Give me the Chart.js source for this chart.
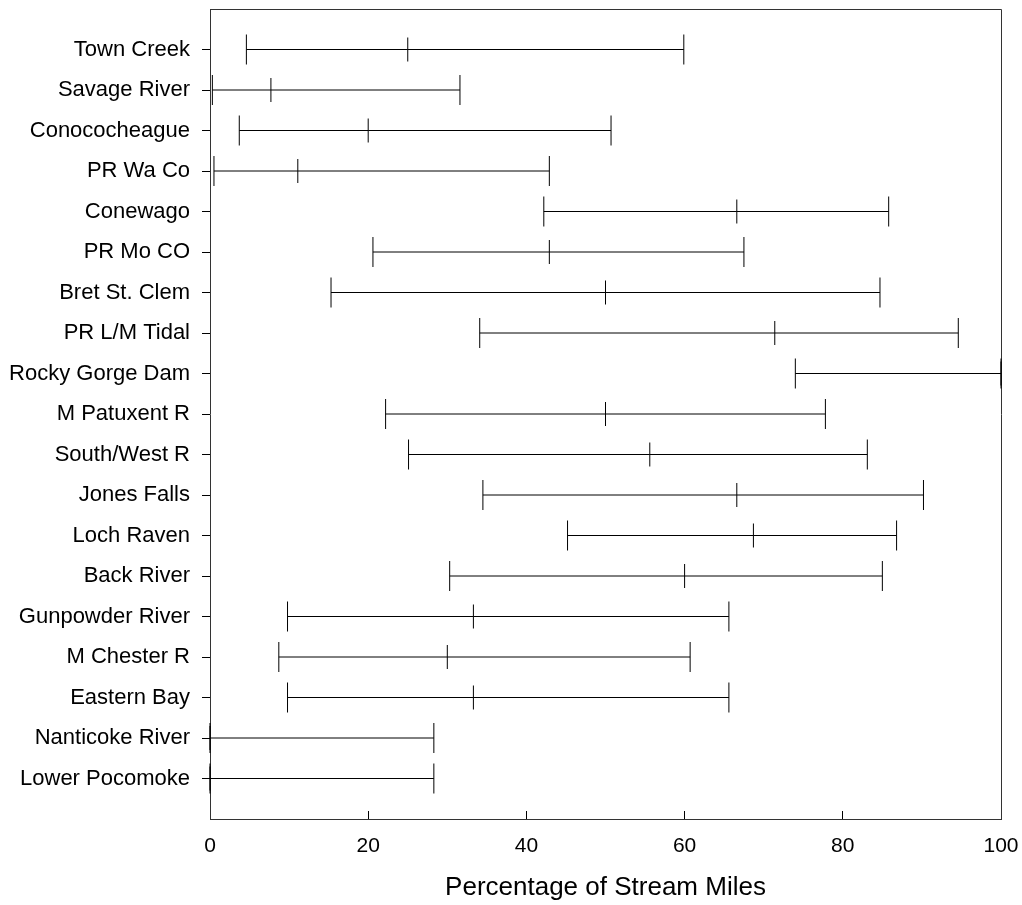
<!DOCTYPE html>
<html>
<head>
<meta charset="utf-8">
<title>Percentage of Stream Miles</title>
<script src="https://cdn.jsdelivr.net/npm/chart.js@4/dist/chart.umd.min.js"></script>
<style>
    html, body { margin: 0; padding: 0; background: #fff; }
    #wrap { width: 1022px; height: 905px; }
</style>
</head>
<body>
<div id="wrap"><canvas id="rangeChart" width="1022" height="905"></canvas></div>
<script>
// Sites, top to bottom
const sites = [
    'Town Creek', 'Savage River', 'Conococheague', 'PR Wa Co', 'Conewago',
    'PR Mo CO', 'Bret St. Clem', 'PR L/M Tidal', 'Rocky Gorge Dam', 'M Patuxent R',
    'South/West R', 'Jones Falls', 'Loch Raven', 'Back River', 'Gunpowder River',
    'M Chester R', 'Eastern Bay', 'Nanticoke River', 'Lower Pocomoke'
];
// Range per site (percent of stream miles)
const lowVals  = [4.6, 0.3, 3.7, 0.5, 42.2, 20.6, 15.3, 34.1, 74.0, 22.2, 25.1, 34.5, 45.2, 30.3, 9.8, 8.7, 9.8, 0, 0];
const midVals  = [25.0, 7.7, 20.0, 11.1, 66.6, 42.9, 50.0, 71.4, 100, 50.0, 55.6, 66.6, 68.7, 60.0, 33.3, 30.0, 33.3, 0, 0];
const highVals = [59.9, 31.6, 50.7, 42.9, 85.8, 67.5, 84.7, 94.6, 100, 77.8, 83.1, 90.2, 86.8, 85.0, 65.6, 60.7, 65.6, 28.3, 28.3];
const xTicks = [0, 20, 40, 60, 80, 100];

const FONT = "'Liberation Sans', Arial, Helvetica, sans-serif";

document.addEventListener('DOMContentLoaded', function() {
    const ctx = document.getElementById('rangeChart').getContext('2d');

    // one line dataset per site: low - mid - high with vertical end marks
    const datasets = sites.map((name, i) => ({
        label: name,
        data: [
            { x: lowVals[i], y: i + 1 },
            { x: midVals[i], y: i + 1 },
            { x: highVals[i], y: i + 1 }
        ],
        showLine: true,
        borderColor: '#000',
        borderWidth: 1,
        pointStyle: 'line',
        rotation: 90,
        pointRadius: [15, 12, 15],
        pointBorderColor: '#000',
        pointBorderWidth: 1,
        clip: false
    }));

    // box around the plot area (top and right sides)
    const framePlugin = {
        id: 'frame',
        beforeDatasetsDraw(chart) {
            const a = chart.chartArea;
            const c = chart.ctx;
            c.save();
            c.strokeStyle = '#333';
            c.lineWidth = 1;
            c.beginPath();
            c.moveTo(Math.round(a.left) + 0.5, Math.round(a.top) + 0.5);
            c.lineTo(Math.round(a.right) + 0.5, Math.round(a.top) + 0.5);
            c.lineTo(Math.round(a.right) + 0.5, Math.round(a.bottom) + 0.5);
            c.stroke();
            c.restore();
        }
    };

    new Chart(ctx, {
        type: 'scatter',
        data: { datasets: datasets },
        plugins: [framePlugin],
        options: {
            responsive: false,
            animation: false,
            events: [],
            layout: {
                autoPadding: false,
                padding: { top: 9, right: 21, left: 0, bottom: 0 }
            },
            plugins: {
                legend: { display: false },
                tooltip: { enabled: false }
            },
            scales: {
                x: {
                    type: 'linear',
                    position: 'bottom',
                    min: 0,
                    max: 100,
                    afterBuildTicks: (scale) => {
                        scale.ticks = xTicks.map(v => ({ value: v }));
                    },
                    afterFit: (scale) => {
                        scale.height = 86;
                        scale.paddingLeft = 0;
                        scale.paddingRight = 0;
                    },
                    grid: {
                        drawOnChartArea: false,
                        drawTicks: true,
                        tickLength: -8,
                        color: '#000'
                    },
                    border: { color: '#333', width: 1 },
                    ticks: {
                        color: '#000',
                        padding: 23,
                        maxRotation: 0,
                        font: { family: FONT, size: 21 }
                    },
                    title: {
                        display: true,
                        text: 'Percentage of Stream Miles',
                        color: '#000',
                        padding: { top: 0, bottom: 2 },
                        font: { family: FONT, size: 26 }
                    }
                },
                y: {
                    type: 'linear',
                    position: 'left',
                    reverse: true,
                    min: 0,
                    max: sites.length + 1,
                    afterBuildTicks: (scale) => {
                        scale.ticks = sites.map((s, i) => ({ value: i + 1 }));
                    },
                    afterFit: (scale) => {
                        scale.width = 210;
                        scale.paddingTop = 0;
                        scale.paddingBottom = 0;
                    },
                    grid: {
                        drawOnChartArea: false,
                        drawTicks: true,
                        tickLength: 8,
                        color: '#000'
                    },
                    border: { color: '#333', width: 1 },
                    ticks: {
                        color: '#000',
                        padding: 12,
                        autoSkip: false,
                        font: { family: FONT, size: 22 },
                        callback: (v) => sites[v - 1]
                    }
                }
            }
        }
    });
});
</script>
</body>
</html>
